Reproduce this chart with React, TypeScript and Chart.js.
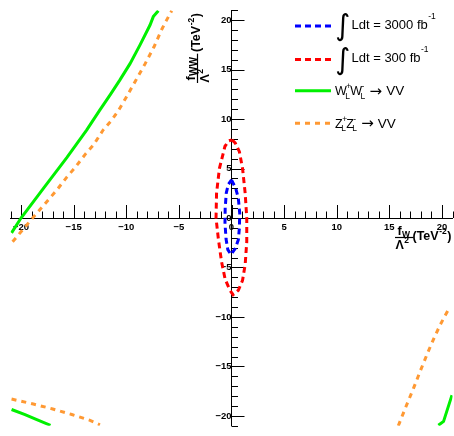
import React, { useEffect, useRef } from 'react';
import { Chart, registerables } from 'chart.js';

Chart.register(...registerables);

// ---------- axis setup ----------
const X_RANGE: [number, number] = [-21, 21];
const Y_RANGE: [number, number] = [-21, 21];
const MAJOR_STEP = 5;
const MINOR_TICKS = [-21, -20, -19, -18, -17, -16, -15, -14, -13, -12, -11, -10, -9, -8, -7, -6, -5, -4, -3, -2, -1, 0, 1, 2, 3, 4, 5, 6, 7, 8, 9, 10, 11, 12, 13, 14, 15, 16, 17, 18, 19, 20, 21];

// ---------- data (x = f_W/Λ², y = f_WW/Λ²) ----------
type Pt = [number, number];

// ∫Ldt = 3000 fb^-1 contour
const lumi3000: Pt[] = [
  [0.0, 3.85], [0.4, 3.0], [0.65, 2.0], [0.78, 0.5], [0.75, -1.0], [0.65, -2.2],
  [0.35, -3.1], [-0.05, -3.7], [-0.35, -3.2], [-0.52, -2.1], [-0.62, -0.5],
  [-0.6, 1.0], [-0.5, 2.5], [-0.3, 3.4], [0.0, 3.85],
];

// ∫Ldt = 300 fb^-1 contour
const lumi300: Pt[] = [
  [0.05, 7.9], [0.35, 7.6], [0.75, 6.7], [1.05, 5.0], [1.3, 2.5], [1.45, 0.0],
  [1.45, -2.4], [1.3, -4.7], [1.05, -6.3], [0.65, -7.3], [0.15, -7.75],
  [-0.15, -7.3], [-0.6, -6.2], [-0.95, -4.4], [-1.25, -2.1], [-1.47, 0.0],
  [-1.42, 2.5], [-1.15, 5.0], [-0.62, 7.25], [-0.25, 7.8], [0.05, 7.9],
];

// W_L W_L -> VV unitarity bound
const wwUpperLeft: Pt[] = [
  [-20.9, -1.5], [-20.0, 0.0], [-17.8, 3.1], [-15.65, 6.1], [-13.75, 8.9],
  [-12.55, 10.85], [-11.5, 12.5], [-10.6, 13.96], [-9.64, 15.6], [-8.69, 17.5],
  [-7.74, 19.5], [-7.43, 20.35], [-6.95, 20.95],
];
const wwLowerLeft: Pt[] = [
  [-20.9, -19.35], [-19.62, -19.86], [-18.5, -20.38], [-17.2, -20.95],
];
const wwLowerRight: Pt[] = [
  [19.66, -20.95], [20.15, -20.55], [20.95, -17.9],
];

// Z_L Z_L -> VV unitarity bound
const zzUpperLeft: Pt[] = [
  [-20.8, -2.4], [-19.0, -0.13], [-18.2, 0.86], [-17.4, 1.84], [-16.6, 2.82],
  [-15.65, 4.13], [-14.86, 5.1], [-13.9, 6.43], [-13.1, 7.4], [-12.2, 8.89],
  [-11.4, 9.87], [-10.75, 10.85], [-10.0, 12.2], [-9.1, 13.9], [-8.2, 15.6],
  [-7.36, 17.3], [-6.63, 19.05], [-6.22, 19.9], [-5.68, 20.95],
];
const zzLowerLeft: Pt[] = [
  [-20.9, -18.3], [-18.83, -18.8], [-16.99, -19.3], [-15.18, -19.86],
  [-13.44, -20.45], [-12.5, -20.9],
];
const zzLowerRight: Pt[] = [
  [15.85, -21.0], [16.6, -19.0], [17.31, -17.17], [18.0, -15.3], [18.7, -13.47],
  [19.3, -12.0], [19.84, -10.78], [20.3, -9.85], [20.7, -9.1],
];

// ---------- styles ----------
const BLUE = 'rgb(0,0,255)';
const RED = 'rgb(255,0,0)';
const GREEN = 'rgb(0,240,0)';
const ORANGE = 'rgb(255,153,51)';
const DASH_LUMI = [6, 4];
const DASH_ZZ = [5, 5];
const FONT = '"Liberation Sans", Arial, sans-serif';

const toXY = (pts: Pt[]) => pts.map(([x, y]) => ({ x, y }));

const ds = (label: string, pts: Pt[], color: string, dash: number[]) => ({
  label,
  data: toXY(pts),
  borderColor: color,
  backgroundColor: color,
  borderWidth: 3,
  borderDash: dash,
  borderCapStyle: 'butt' as const,
  showLine: true,
  pointRadius: 0,
  pointHoverRadius: 0,
  fill: false,
  tension: 0,
});

const fmtTick = (v: number | string) => String(v).replace('-', '\u2212');

// ---------- decorations (minor ticks, legend, axis titles) ----------
function drawTitle(
  ctx: CanvasRenderingContext2D, ox: number, oy: number, rot: number,
  numMain: string, numSub: string, subSize: number, unitStart: number | null,
) {
  const big = `bold 12.5px ${FONT}`;
  const small = `bold 8.5px ${FONT}`;
  const sub = `bold ${subSize}px ${FONT}`;
  ctx.save();
  ctx.translate(ox, oy);
  ctx.rotate(rot);
  ctx.fillStyle = '#000';
  ctx.textAlign = 'left';
  ctx.textBaseline = 'alphabetic';
  ctx.font = big;
  const fw = ctx.measureText(numMain).width;
  ctx.fillText(numMain, 2.5, -2.5);
  ctx.font = sub;
  const sw = ctx.measureText(numSub).width;
  ctx.fillText(numSub, 2.5 + fw + 0.3, -1);
  const numW = 2.5 + fw + 0.3 + sw;
  ctx.font = big;
  const lw = ctx.measureText('\u039B').width;
  ctx.fillText('\u039B', 0.5, 11);
  ctx.font = small;
  const tw = ctx.measureText('2').width;
  ctx.fillText('2', 0.5 + lw + 0.5, 5.5);
  const denW = 0.5 + lw + 0.5 + tw;
  const barW = Math.max(numW, denW) + 3.5;
  ctx.fillRect(0, -0.6, barW, 1.2);
  let ux = unitStart === null ? barW - 1 : unitStart;
  ctx.font = big;
  ctx.fillText('(TeV', ux, 2.5);
  ux += ctx.measureText('(TeV').width;
  ctx.font = small;
  ctx.fillText('-2', ux + 0.5, -3.5);
  ux += ctx.measureText('-2').width + 1;
  ctx.font = big;
  ctx.fillText(')', ux, 2.5);
  ctx.restore();
}

function drawSample(ctx: CanvasRenderingContext2D, y: number, color: string, dash: number[]) {
  ctx.save();
  ctx.strokeStyle = color;
  ctx.lineWidth = 3;
  ctx.setLineDash(dash);
  ctx.beginPath();
  ctx.moveTo(295, y);
  ctx.lineTo(331, y);
  ctx.stroke();
  ctx.restore();
}

function drawLumiEntry(ctx: CanvasRenderingContext2D, y: number, text: string) {
  ctx.save();
  ctx.fillStyle = '#000';
  ctx.textAlign = 'left';
  ctx.textBaseline = 'middle';
  ctx.font = `29px "DejaVu Sans", sans-serif`;
  ctx.fillText('\u222B', 335, y + 1.5);
  ctx.textBaseline = 'alphabetic';
  ctx.font = `13px ${FONT}`;
  ctx.fillText(text, 351.5, y + 2.5);
  const w = ctx.measureText(text).width;
  ctx.font = `8.5px ${FONT}`;
  ctx.fillText('-1', 351.5 + w + 0.5, y - 7.5);
  ctx.restore();
}

function drawProcEntry(ctx: CanvasRenderingContext2D, y: number, boson: string) {
  ctx.save();
  ctx.fillStyle = '#000';
  ctx.textAlign = 'left';
  ctx.textBaseline = 'alphabetic';
  let x = 335;
  const signs = ['+', '-'];
  for (const s of signs) {
    ctx.font = `12.5px ${FONT}`;
    ctx.fillText(boson, x, y + 4.3);
    x += ctx.measureText(boson).width;
    ctx.font = `8.5px ${FONT}`;
    ctx.fillText('L', x - 1.5, y + 7.8);
    ctx.fillText(s, x - 0.5, y - 1.5);
    x += 3.5;
  }
  x += 4;
  ctx.font = `15px "DejaVu Sans", sans-serif`;
  ctx.fillText('\u2192', x, y + 4.8);
  x += ctx.measureText('\u2192').width + 4;
  ctx.font = `13.5px ${FONT}`;
  ctx.fillText('VV', x, y + 4.5);
  ctx.restore();
}

const rootDecor = {
  id: 'rootDecor',
  beforeDatasetsDraw(chart: any) {
    const { ctx } = chart;
    const xs = chart.scales.x;
    const ys = chart.scales.y;
    const x0 = xs.getPixelForValue(0);
    const y0 = ys.getPixelForValue(0);
    ctx.save();
    ctx.strokeStyle = '#000';
    ctx.lineWidth = 1;
    ctx.beginPath();
    for (const v of MINOR_TICKS) {
      const len = v % MAJOR_STEP === 0 ? 13 : 6.5;
      const px = Math.round(xs.getPixelForValue(v)) + 0.5;
      ctx.moveTo(px, y0);
      ctx.lineTo(px, y0 - len);
      const py = Math.round(ys.getPixelForValue(v)) + 0.5;
      ctx.moveTo(x0, py);
      ctx.lineTo(x0 + len, py);
    }
    ctx.stroke();
    ctx.restore();
  },
  afterDraw(chart: any) {
    const { ctx } = chart;
    drawSample(ctx, 26, BLUE, DASH_LUMI);
    drawLumiEntry(ctx, 26, 'Ldt = 3000 fb');
    drawSample(ctx, 59.5, RED, DASH_LUMI);
    drawLumiEntry(ctx, 59.5, 'Ldt = 300 fb');
    drawSample(ctx, 90.7, GREEN, []);
    drawProcEntry(ctx, 90.7, 'W');
    drawSample(ctx, 123.3, ORANGE, DASH_ZZ);
    drawProcEntry(ctx, 123.3, 'Z');
    // x-axis title
    drawTitle(ctx, 395, 237.5, 0, 'f', 'W', 8.5, null);
    // y-axis title (rotated)
    drawTitle(ctx, 197.5, 83, -Math.PI / 2, 'f', 'WW', 10, 31);
  },
};

export default function App() {
  const ref = useRef<HTMLCanvasElement>(null);
  useEffect(() => {
    if (!ref.current) return;
    const tickFont = { family: FONT, size: 9.5, weight: 'bold' as const };
    const chart = new Chart(ref.current, {
      type: 'scatter',
      data: {
        datasets: [
          ds('3000', lumi3000, BLUE, DASH_LUMI),
          ds('300', lumi300, RED, DASH_LUMI),
          ds('WW a', wwUpperLeft, GREEN, []),
          ds('WW b', wwLowerLeft, GREEN, []),
          ds('WW c', wwLowerRight, GREEN, []),
          ds('ZZ a', zzUpperLeft, ORANGE, DASH_ZZ),
          ds('ZZ b', zzLowerLeft, ORANGE, DASH_ZZ),
          ds('ZZ c', zzLowerRight, ORANGE, DASH_ZZ),
        ],
      },
      options: {
        responsive: false,
        animation: false,
        devicePixelRatio: 1,
        layout: { padding: { left: 10.5, right: 1.5, top: 5, bottom: 3.8 } },
        plugins: {
          legend: { display: false },
          tooltip: { enabled: false },
        },
        events: [],
        scales: {
          x: {
            type: 'linear',
            position: { y: 0 } as any,
            min: X_RANGE[0],
            max: X_RANGE[1],
            ticks: {
              stepSize: MAJOR_STEP,
              includeBounds: false,
              autoSkip: false,
              maxRotation: 0,
              padding: 3.5,
              color: '#000',
              font: tickFont,
              callback: (v: any) => fmtTick(v),
            },
            grid: { drawOnChartArea: false, drawTicks: false },
            border: { color: '#000', width: 1 },
          },
          y: {
            type: 'linear',
            position: { x: 0 } as any,
            min: Y_RANGE[0],
            max: Y_RANGE[1],
            ticks: {
              stepSize: MAJOR_STEP,
              includeBounds: false,
              autoSkip: false,
              padding: 4.5,
              color: '#000',
              font: tickFont,
              callback: (v: any) => fmtTick(v),
            },
            grid: { drawOnChartArea: false, drawTicks: false },
            border: { color: '#000', width: 1 },
          },
        },
      },
      plugins: [rootDecor],
    });
    return () => chart.destroy();
  }, []);
  return (
    <div style={{ position: 'absolute', left: 0, top: 0, width: 454, height: 436, background: '#fff' }}>
      <canvas ref={ref} width={454} height={436} style={{ display: 'block', width: 454, height: 436 }} />
    </div>
  );
}
